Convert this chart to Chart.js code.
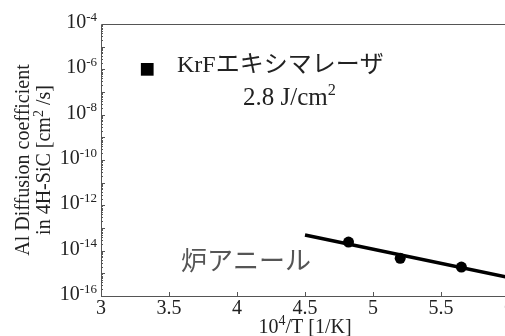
<!DOCTYPE html>
<html>
<head>
<meta charset="utf-8">
<script src="https://cdn.jsdelivr.net/npm/chart.js@4"></script>
<style>
  html, body { margin: 0; padding: 0; background: #fff; overflow: hidden; }
  #wrap { width: 520px; height: 336px; position: relative; }
</style>
</head>
<body>
<div id="wrap"><canvas id="chart"></canvas></div>
<script>
// data
const krfX = [3.34];
const krfY = [1e-6];
const furnaceX = [4.82, 5.20, 5.65];
const furnaceY = [2.4e-14, 4.6e-15, 1.9e-15];
const fitX = [4.5, 6.0];
const fitY = [4.9e-14, 6.5e-16];
const xTicks = [3, 3.5, 4, 4.5, 5, 5.5, 6];
const xTickLabels = ['3', '3.5', '4', '4.5', '5', '5.5', '6'];
const yExps = [-16, -14, -12, -10, -8, -6, -4];

const SERIF = '"Liberation Serif", "Noto Sans CJK JP", serif';

const toPts = (xs, ys) => xs.map((x, i) => ({ x: x, y: ys[i] }));

// draw text with superscript parts: parts = [[text, isSup], ...]
function drawRich(ctx, parts, x, y, size, align, supScale, raise) {
    supScale = supScale || 0.65;
    raise = raise || 0.36;
    let w = 0;
    parts.forEach(p => {
        ctx.font = (p[1] ? size * supScale : size) + 'px ' + SERIF;
        w += ctx.measureText(p[0]).width;
    });
    let cx = align === 'right' ? x - w : align === 'center' ? x - w / 2 : x;
    ctx.textAlign = 'left';
    ctx.textBaseline = 'alphabetic';
    parts.forEach(p => {
        ctx.font = (p[1] ? size * supScale : size) + 'px ' + SERIF;
        ctx.fillText(p[0], cx, p[1] ? y - size * raise : y);
        cx += ctx.measureText(p[0]).width;
    });
}

const decor = {
    id: 'decor',
    beforeDatasetsDraw(chart) {
        const ctx = chart.ctx, a = chart.chartArea;
        const xs = chart.scales.x, ys = chart.scales.y;
        ctx.save();
        ctx.strokeStyle = '#555';
        ctx.lineWidth = 1;
        // frame (left, bottom, top)
        ctx.beginPath();
        ctx.moveTo(a.right, a.top + 0.5);
        ctx.lineTo(a.left + 0.5, a.top + 0.5);
        ctx.lineTo(a.left + 0.5, a.bottom + 0.5);
        ctx.lineTo(a.right, a.bottom + 0.5);
        ctx.stroke();

        // y ticks, inward, log minors
        ctx.beginPath();
        for (let e = -16; e < -4; e++) {
            for (let k = 1; k <= 9; k++) {
                const py = Math.round(ys.getPixelForValue(k * Math.pow(10, e))) + 0.5;
                const len = k === 1 ? 4 : 2;
                ctx.moveTo(a.left, py);
                ctx.lineTo(a.left + len, py);
            }
        }
        // x ticks, inward
        xTicks.forEach(v => {
            const px = Math.round(xs.getPixelForValue(v)) + 0.5;
            ctx.moveTo(px, a.bottom);
            ctx.lineTo(px, a.bottom - 4);
        });
        ctx.stroke();

        ctx.fillStyle = '#222';
        // y tick labels
        yExps.forEach(e => {
            const py = ys.getPixelForValue(Math.pow(10, e));
            drawRich(ctx, [['10', false], [String(e), true]], 97, py + 4, 20, 'right', 0.65, 0.36);
        });
        // x tick labels
        ctx.font = '20px ' + SERIF;
        ctx.textAlign = 'center';
        ctx.textBaseline = 'alphabetic';
        xTicks.forEach((v, i) => {
            ctx.fillText(xTickLabels[i], xs.getPixelForValue(v), 314);
        });

        // axis titles
        const midX = (a.left + a.right) / 2;
        drawRich(ctx, [['10', false], ['4', true], ['/T [1/K]', false]], midX, 333, 20, 'center', 0.7, 0.4);

        const midY = (a.top + a.bottom) / 2;
        ctx.save();
        ctx.translate(29, midY);
        ctx.rotate(-Math.PI / 2);
        drawRich(ctx, [['Al Diffusion coefficient', false]], 0, 0, 20, 'center');
        ctx.restore();
        ctx.save();
        ctx.translate(50, midY);
        ctx.rotate(-Math.PI / 2);
        drawRich(ctx, [['in 4H-SiC [cm', false], ['2', true], [' /s]', false]], 0, 0, 20, 'center', 0.7, 0.33);
        ctx.restore();

        // annotations
        drawRich(ctx, [['KrFエキシマレーザ', false]], 177, 72, 24);
        drawRich(ctx, [['2.8 J/cm', false], ['2', true]], 243, 105, 25, 'left', 0.65, 0.4);

        ctx.fillStyle = '#555';
        ctx.font = '26px "Noto Sans CJK JP", sans-serif';
        ctx.textAlign = 'left';
        ctx.textBaseline = 'middle';
        ctx.fillText('炉アニール', 181, 260);
        ctx.restore();
    }
};

new Chart(document.getElementById('chart'), {
    type: 'scatter',
    data: {
        datasets: [
            { data: toPts(fitX, fitY), showLine: true, borderColor: '#000', borderWidth: 3.5, pointRadius: 0 },
            { data: toPts(furnaceX, furnaceY), pointRadius: 5.5, backgroundColor: '#000', borderColor: '#000', borderWidth: 0 },
            { data: toPts(krfX, krfY), pointStyle: 'rect', pointRadius: 9, backgroundColor: '#000', borderColor: '#000', borderWidth: 0 }
        ]
    },
    options: {
        responsive: true, maintainAspectRatio: false, animation: false,
        layout: { padding: { top: 24, right: 11, left: 0, bottom: 0 } },
        plugins: { legend: { display: false }, tooltip: { enabled: false } },
        scales: {
            x: {
                type: 'linear', min: 3, max: 6,
                grid: { display: false }, border: { display: false }, ticks: { display: false },
                afterFit: s => { s.height = 40; }
            },
            y: {
                type: 'logarithmic', min: 1e-16, max: 1e-4,
                grid: { display: false }, border: { display: false }, ticks: { display: false },
                afterFit: s => { s.width = 101; }
            }
        }
    },
    plugins: [decor]
});
</script>
</body>
</html>
